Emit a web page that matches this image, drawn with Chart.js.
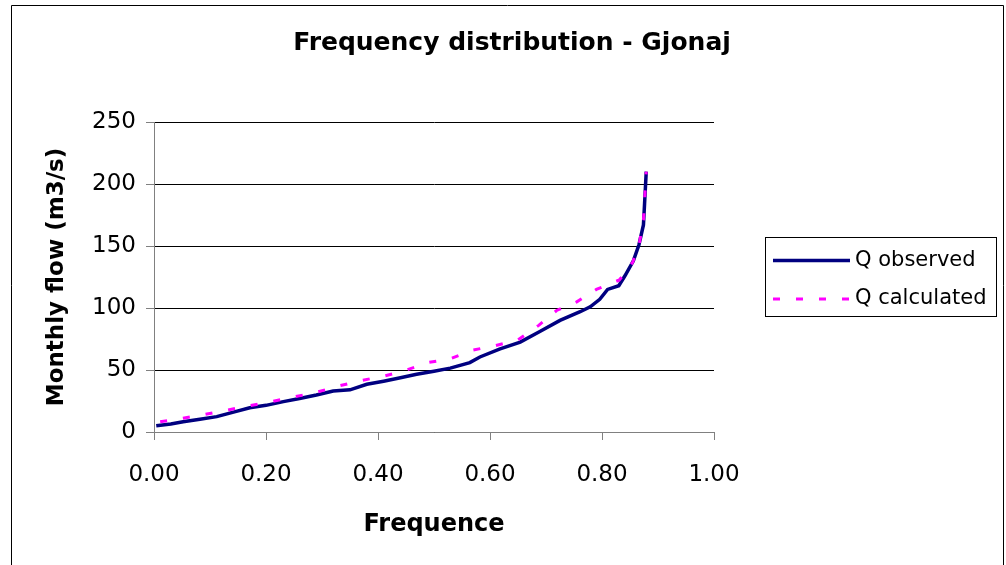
<!DOCTYPE html>
<html>
<head>
<meta charset="utf-8">
<script src="https://cdn.jsdelivr.net/npm/chart.js@4/dist/chart.umd.min.js"></script>
<style>
  body { margin: 0; background: #fff; }
  canvas { display: block; }
</style>
</head>
<body>
<canvas id="freq-chart" width="1006" height="565"></canvas>
<script>
// Frequency (x) and monthly flow (y)
const freqObserved = [0.004, 0.03, 0.052, 0.082, 0.112, 0.142, 0.171, 0.2, 0.231, 0.26, 0.29, 0.32, 0.35, 0.38, 0.41, 0.44, 0.469, 0.5, 0.529, 0.564, 0.582, 0.618, 0.654, 0.689, 0.725, 0.761, 0.779, 0.796, 0.81, 0.83, 0.841, 0.856, 0.866, 0.874, 0.876, 0.879];
const flowObserved = [5, 6.5, 8.3, 10.2, 12.4, 16, 19.5, 21.5, 24.5, 27, 29.8, 33, 34, 38.5, 41, 43.8, 46.5, 49, 51.5, 56, 60.5, 67, 72.5, 81, 90, 97, 101, 107, 115, 118, 126, 138, 151, 167, 184, 210];

const freqCalculated = [0.011, 0.051, 0.091, 0.131, 0.171, 0.21, 0.252, 0.29, 0.329, 0.369, 0.41, 0.448, 0.489, 0.529, 0.569, 0.609, 0.649, 0.687, 0.719, 0.755, 0.79, 0.831, 0.855, 0.867, 0.874, 0.879];
const flowCalculated = [8.3, 11, 14.2, 17.7, 21.2, 24.5, 28.5, 32, 37, 41.4, 45, 49.5, 56, 59, 66, 69.6, 74, 86, 98, 105, 115, 122.6, 137, 153, 171, 210];

const seriesNames = ['Q observed', 'Q calculated'];
const chartTitle = 'Frequency distribution - Gjonaj';

const FONT = '"DejaVu Sans", sans-serif';

// title, legend box and outer frame are drawn by hand (Excel style)
const frame = {
    id: 'frame',
    afterDraw(chart) {
        const ctx = chart.ctx;
        ctx.save();
        // outer border
        ctx.strokeStyle = '#000';
        ctx.lineWidth = 1;
        ctx.beginPath();
        ctx.moveTo(11.5, 570);
        ctx.lineTo(11.5, 5.5);
        ctx.lineTo(1003.5, 5.5);
        ctx.lineTo(1003.5, 570);
        ctx.stroke();

        // title
        ctx.fillStyle = '#000';
        ctx.font = 'bold 25px ' + FONT;
        ctx.textAlign = 'center';
        ctx.textBaseline = 'middle';
        ctx.fillText(chartTitle, 512, 43);

        // legend
        ctx.strokeRect(765.5, 237.5, 231, 79);
        const ds = chart.data.datasets;
        const rows = [260.5, 299];
        ctx.font = '21px ' + FONT;
        ctx.textAlign = 'left';
        ds.forEach((d, i) => {
            ctx.beginPath();
            ctx.strokeStyle = d.borderColor;
            ctx.lineWidth = d.borderWidth;
            ctx.setLineDash(d.borderDash || []);
            ctx.moveTo(773, rows[i]);
            ctx.lineTo(850, rows[i]);
            ctx.stroke();
            ctx.setLineDash([]);
            ctx.fillStyle = '#000';
            ctx.fillText(d.label, 855, rows[i]);
        });
        ctx.restore();
    }
};

new Chart(document.getElementById('freq-chart'), {
    type: 'line',
    data: {
        datasets: [{
            label: seriesNames[0],
            data: freqObserved.map((f, i) => ({ x: f, y: flowObserved[i] })),
            borderColor: '#000080',
            borderWidth: 3.5,
            pointRadius: 0,
            tension: 0,
            fill: false,
            order: 2
        }, {
            label: seriesNames[1],
            data: freqCalculated.map((f, i) => ({ x: f, y: flowCalculated[i] })),
            borderColor: '#FF00FF',
            borderWidth: 3,
            borderDash: [7, 16],
            pointRadius: 0,
            tension: 0,
            fill: false,
            order: 1
        }]
    },
    options: {
        responsive: false,
        animation: false,
        layout: { padding: { left: 0, right: 292, top: 122, bottom: 0 } },
        plugins: {
            legend: { display: false },
            tooltip: { enabled: false },
            title: { display: false }
        },
        scales: {
            x: {
                type: 'linear',
                min: 0,
                max: 1,
                afterFit: s => { s.height = 133; },
                ticks: {
                    stepSize: 0.2,
                    padding: 21,
                    color: '#000',
                    font: { family: FONT, size: 23 },
                    callback: v => v.toFixed(2),
                    maxRotation: 0
                },
                grid: { drawOnChartArea: false, tickLength: 8, color: '#808080' },
                border: { color: '#808080' },
                title: {
                    display: true,
                    text: 'Frequence',
                    color: '#000',
                    font: { family: FONT, size: 24, weight: 'bold' },
                    padding: { top: 0, bottom: 26 }
                }
            },
            y: {
                min: 0,
                max: 250,
                afterFit: s => { s.width = 154; },
                ticks: {
                    stepSize: 50,
                    padding: 10,
                    color: '#000',
                    font: { family: FONT, size: 23 }
                },
                grid: { color: '#000', tickLength: 8, tickColor: '#808080' },
                border: { color: '#808080' },
                title: {
                    display: true,
                    text: 'Monthly flow (m3/s)',
                    color: '#000',
                    font: { family: FONT, size: 23, weight: 'bold' },
                    padding: { top: 43, bottom: 0 }
                }
            }
        }
    },
    plugins: [frame]
});
</script>
</body>
</html>
